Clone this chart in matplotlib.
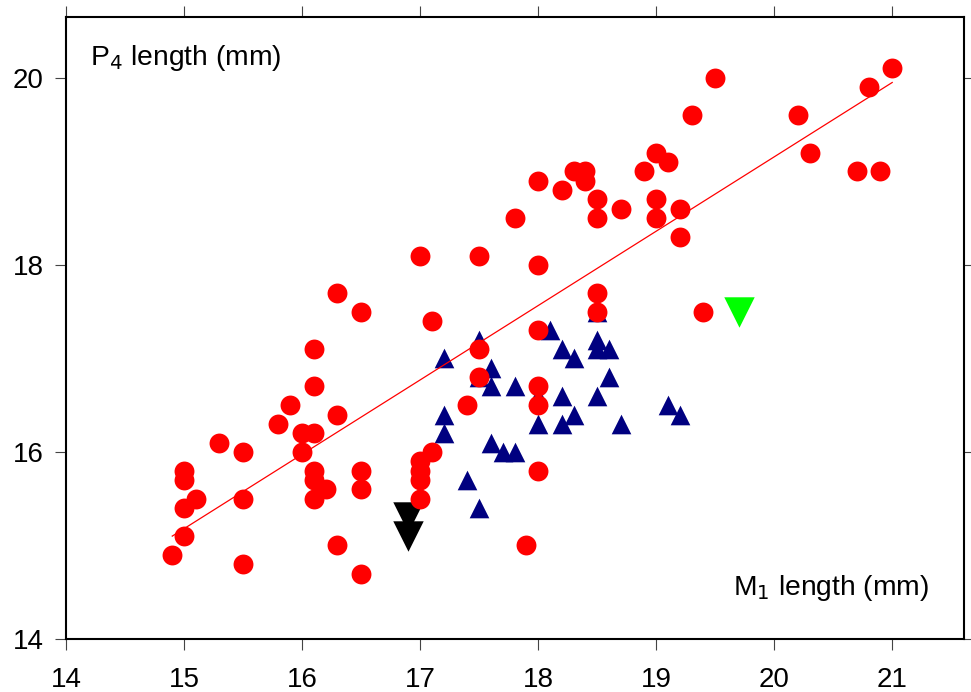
import matplotlib
matplotlib.use("Agg")
import matplotlib.pyplot as plt

plt.rcParams['font.family'] = ['Liberation Sans', 'DejaVu Sans']

# red circles: M1 length vs P4 length
red_x = [14.9, 15.0, 15.0, 15.1, 15.0, 15.0, 15.3, 15.5, 15.5, 15.5,
         15.8, 15.9, 16.0, 16.0, 16.1, 16.1, 16.1, 16.1, 16.1, 16.1,
         16.2, 16.3, 16.3, 16.3, 16.5, 16.5, 16.5, 16.5, 17.0, 17.0,
         17.0, 17.0, 17.0, 17.1, 17.1, 17.4, 17.5, 17.5, 17.5, 17.8,
         17.9, 18.0, 18.0, 18.0, 18.0, 18.0, 18.0, 18.2, 18.3, 18.4,
         18.4, 18.5, 18.5, 18.5, 18.5, 18.7, 18.9, 19.0, 19.0, 19.0,
         19.1, 19.2, 19.2, 19.3, 19.4, 19.5, 20.2, 20.3, 20.7, 20.8,
         20.9, 21.0]
red_y = [14.9, 15.1, 15.4, 15.5, 15.7, 15.8, 16.1, 14.8, 15.5, 16.0,
         16.3, 16.5, 16.2, 16.0, 16.2, 16.7, 17.1, 15.8, 15.7, 15.5,
         15.6, 16.4, 17.7, 15.0, 17.5, 15.8, 15.6, 14.7, 18.1, 15.9,
         15.8, 15.7, 15.5, 16.0, 17.4, 16.5, 18.1, 17.1, 16.8, 18.5,
         15.0, 18.9, 18.0, 17.3, 16.7, 16.5, 15.8, 18.8, 19.0, 19.0,
         18.9, 18.7, 18.5, 17.7, 17.5, 18.6, 19.0, 19.2, 18.7, 18.5,
         19.1, 18.6, 18.3, 19.6, 17.5, 20.0, 19.6, 19.2, 19.0, 19.9,
         19.0, 20.1]

# blue triangles
blue_x = [17.2, 17.5, 17.6, 17.5, 17.6, 17.8, 18.1, 18.2, 18.3, 18.5,
          18.5, 18.6, 18.5, 18.6, 18.5, 18.2, 18.0, 18.3, 18.0, 18.2,
          18.7, 17.2, 17.2, 17.6, 17.7, 17.8, 17.4, 17.5, 19.1, 19.2]
blue_y = [17.0, 17.2, 16.9, 16.8, 16.7, 16.7, 17.3, 17.1, 17.0, 17.2,
          17.1, 17.1, 17.5, 16.8, 16.6, 16.6, 16.6, 16.4, 16.3, 16.3,
          16.3, 16.4, 16.2, 16.1, 16.0, 16.0, 15.7, 15.4, 16.5, 16.4]

# black and green inverted triangles
black_x = [16.9, 16.9]
black_y = [15.3, 15.1]
green_x = [19.7]
green_y = [17.5]

# regression line end points
fit_x = [14.9, 21.0]
fit_y = [15.1, 19.95]

xticks = [14, 15, 16, 17, 18, 19, 20, 21]
yticks = [14, 16, 18, 20]

fig = plt.figure(figsize=(9.71, 6.92), dpi=100)
ax = fig.add_axes([0.068, 0.0766, 0.925, 0.8988])

ax.scatter(blue_x, blue_y, marker='^', s=200, color='#000080', linewidths=0, zorder=2)
ax.scatter(black_x, black_y, marker='v', s=480, color='black', linewidths=0, zorder=2)
ax.scatter(red_x, red_y, marker='o', s=205, color='#ff0000', linewidths=0, zorder=3)
ax.plot(fit_x, fit_y, color='#ff0000', lw=0.9, zorder=4)
ax.scatter(green_x, green_y, marker='v', s=480, color='#00ff00', linewidths=0, zorder=3)

ax.set_xlim(14, 21.61)
ax.set_ylim(14, 20.65)
ax.set_xticks(xticks)
ax.set_yticks(yticks)
ax.tick_params(direction='out', length=8, width=0.8, color='#444444',
               top=True, right=True, labelsize=20)
ax.tick_params(axis='x', pad=12)
ax.tick_params(axis='y', pad=8)
for side in ax.spines:
    ax.spines[side].set_linewidth(1.5)

ax.text(0.027, 0.923, 'P$_4$ length (mm)', transform=ax.transAxes,
        fontsize=20.3, ha='left', va='baseline')
ax.text(0.743, 0.071, 'M$_1$ length (mm)', transform=ax.transAxes,
        fontsize=20.3, ha='left', va='baseline')

fig.savefig('out.png', dpi=100)
